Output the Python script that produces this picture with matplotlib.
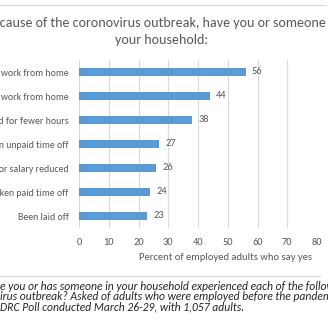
import matplotlib.pyplot as plt
from matplotlib.lines import Line2D

# --- data ---
categories = ["Been told to work from home",
              "Been able to work from home",
              "Been scheduled for fewer hours",
              "Been given unpaid time off",
              "Had wages or salary reduced",
              "Taken paid time off",
              "Been laid off"]
values = [56, 44, 38, 27, 26, 24, 23]
xticks = [0, 10, 20, 30, 40, 50, 60, 70, 80]

plt.rcParams['font.family'] = ['Carlito', 'DejaVu Sans']
grey = '#595959'
blue = '#5B9BD5'

W = H = 328
fig = plt.figure(figsize=(W / 100, H / 100), dpi=100)

# axes placed in pixel terms
left, right, top, bottom = 79, 317, 60, 228
ax = fig.add_axes([left / W, 1 - bottom / H, (right - left) / W, (bottom - top) / H])

ypos = list(range(len(categories)))
ax.barh(ypos, values, height=0.36, color=blue, zorder=3)
ax.set_ylim(len(categories) - 0.5, -0.5)
ax.set_xlim(0, 80)
ax.set_xticks(xticks)
ax.set_xticklabels([str(t) for t in xticks], fontsize=7.5, color=grey)
ax.set_yticks(ypos)
ax.set_yticklabels(categories, fontsize=7.1, color=grey)
ax.tick_params(axis='both', length=0)
ax.tick_params(axis='x', pad=7)
ax.tick_params(axis='y', pad=7.5)
ax.grid(axis='x', color='#D9D9D9', lw=0.8, zorder=0)
for s in ax.spines.values():
    s.set_visible(False)

for y, v in zip(ypos, values):
    ax.annotate(str(v), (v, y), xytext=(4.5, 0), textcoords='offset points',
                ha='left', va='center', fontsize=7.5, color=grey)

# title
fig.text(162 / W, 1 - 23 / H, "Because of the coronovirus outbreak, have you or someone in",
         ha='center', va='center', fontsize=10.1, color=grey)
fig.text(162 / W, 1 - 40 / H, "your household:", ha='center', va='center',
         fontsize=10.1, color=grey)

# axis title
fig.text(226 / W, 1 - 258 / H, "Percent of employed adults who say yes",
         ha='center', va='center', fontsize=7.7, color=grey)

# frame lines
fig.add_artist(Line2D([0, 325 / W], [1 - 5 / H, 1 - 5 / H], color='#D9D9D9', lw=0.8))
fig.add_artist(Line2D([0, 320 / W], [1 - 276 / H, 1 - 276 / H], color='#D9D9D9', lw=0.8))

# footnote
notes = ["e you or has someone in your household experienced each of the following",
         "irus outbreak? Asked of adults who were employed before the pandemic.",
         "DRC Poll conducted March 26-29, with 1,057 adults."]
for i, line in enumerate(notes):
    fig.text(0.5 / W, 1 - (286 + i * 10.5) / H, line, ha='left', va='center',
             fontsize=8.4, style='italic', color='#262626')

fig.savefig('out.png', dpi=100)
